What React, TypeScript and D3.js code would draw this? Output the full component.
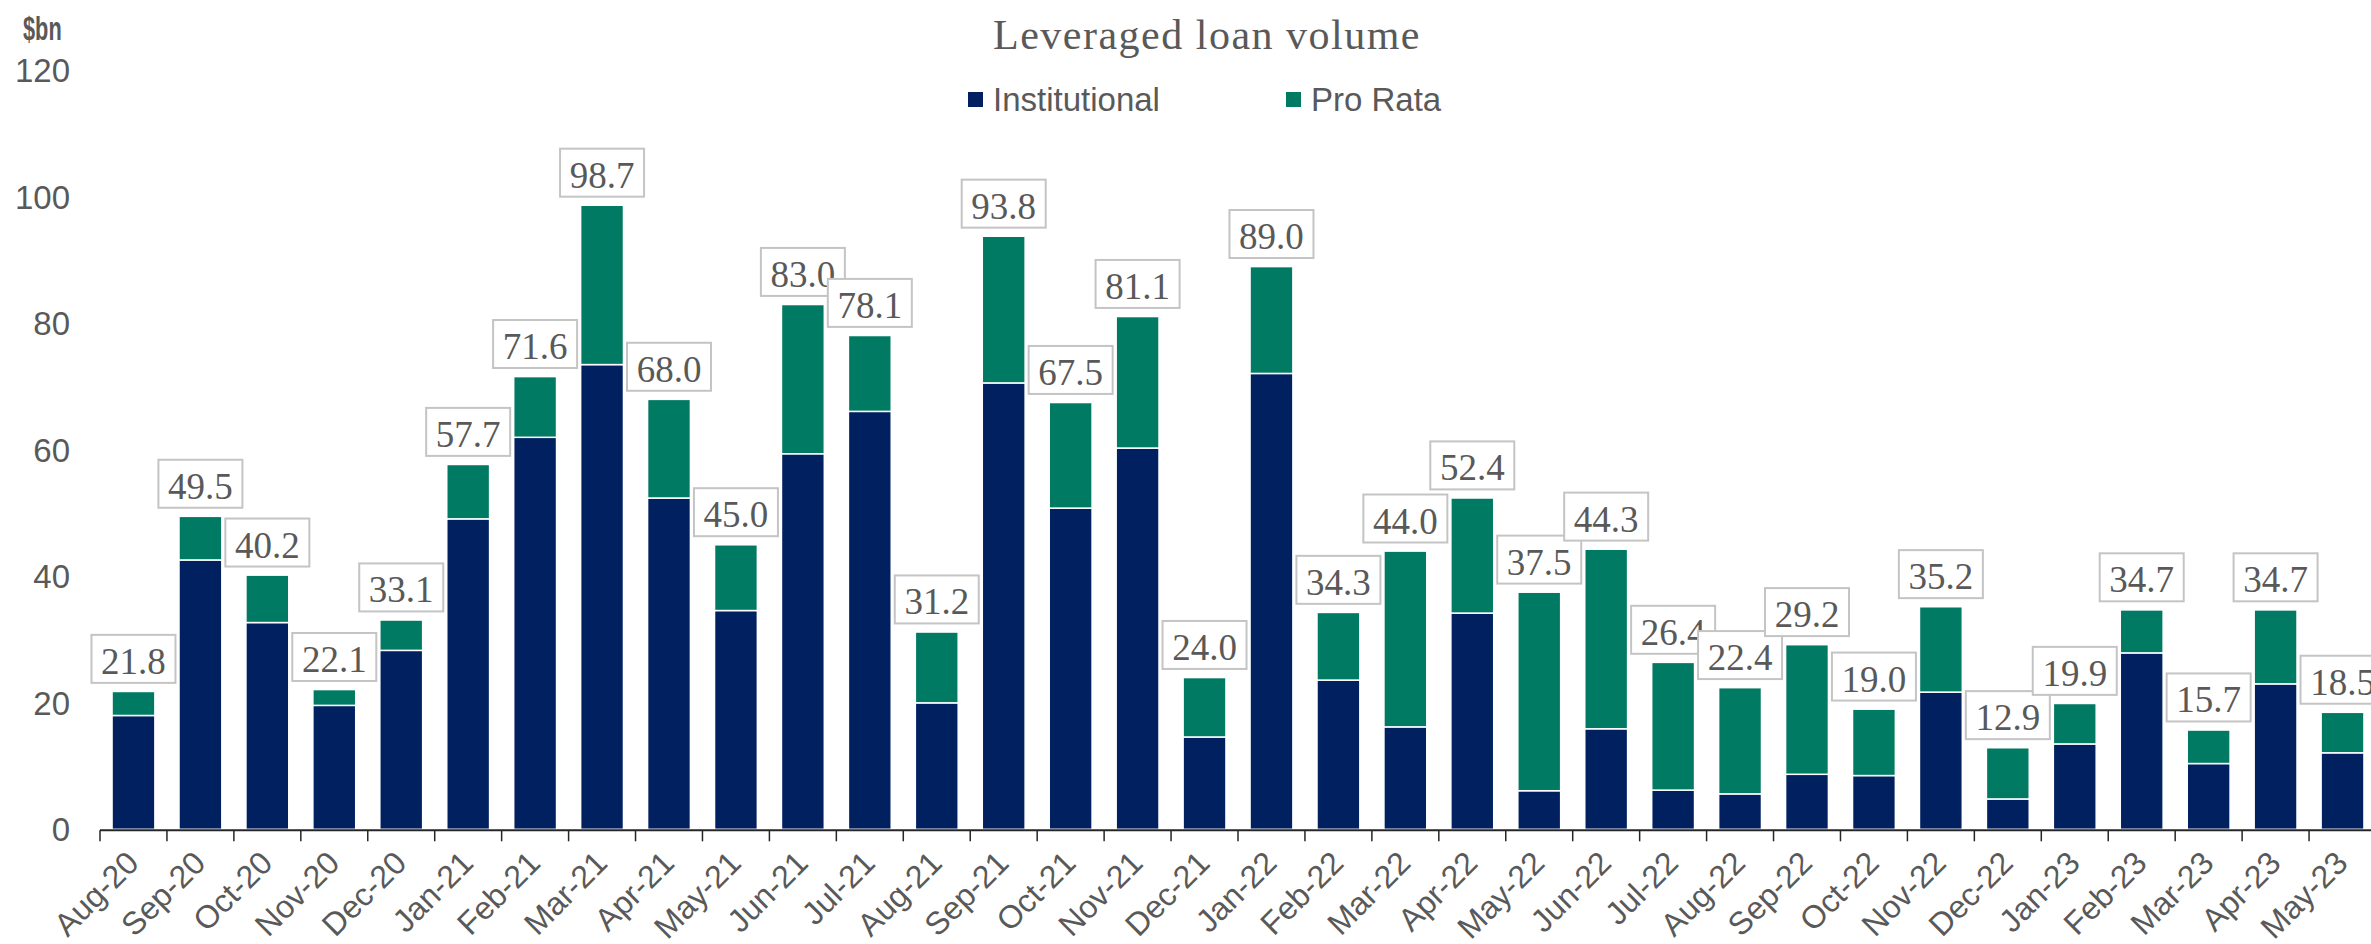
import React, { useRef, useLayoutEffect } from "react";
import * as d3 from "d3";

const months = [
  "Aug-20", "Sep-20", "Oct-20", "Nov-20", "Dec-20", "Jan-21", "Feb-21", "Mar-21",
  "Apr-21", "May-21", "Jun-21", "Jul-21", "Aug-21", "Sep-21", "Oct-21", "Nov-21",
  "Dec-21", "Jan-22", "Feb-22", "Mar-22", "Apr-22", "May-22", "Jun-22", "Jul-22",
  "Aug-22", "Sep-22", "Oct-22", "Nov-22", "Dec-22", "Jan-23", "Feb-23", "Mar-23",
  "Apr-23", "May-23",
];

const institutional = [
  18.0, 42.6, 32.7, 19.6, 28.3, 49.1, 62.0, 73.5, 52.4, 34.6, 59.4, 66.1, 20.0,
  70.6, 50.8, 60.3, 14.6, 72.1, 23.6, 16.2, 34.2, 6.1, 15.9, 6.2, 5.6, 8.7, 8.5,
  21.7, 4.8, 13.5, 27.9, 10.4, 23.0, 12.1,
];

const proRata = [
  3.8, 6.9, 7.5, 2.5, 4.8, 8.6, 9.6, 25.2, 15.6, 10.4, 23.6, 12.0, 11.2, 23.2,
  16.7, 20.8, 9.4, 16.9, 10.7, 27.8, 18.2, 31.4, 28.4, 20.2, 16.8, 20.5, 10.5,
  13.5, 8.1, 6.4, 6.8, 5.3, 11.7, 6.4,
];

const totals = [
  21.8, 49.5, 40.2, 22.1, 33.1, 57.7, 71.6, 98.7, 68.0, 45.0, 83.0, 78.1, 31.2,
  93.8, 67.5, 81.1, 24.0, 89.0, 34.3, 44.0, 52.4, 37.5, 44.3, 26.4, 22.4, 29.2,
  19.0, 35.2, 12.9, 19.9, 34.7, 15.7, 34.7, 18.5,
];

const yTicks = [0, 20, 40, 60, 80, 100, 120];
const seriesNames = ["Institutional", "Pro Rata"];
const seriesColors = ["#002060", "#007A62"];

export default function App() {
  const ref = useRef<SVGSVGElement>(null);

  useLayoutEffect(() => {
    const width = 2371;
    const height = 944;
    const svg = d3.select(ref.current);
    svg.selectAll("*").remove();
    svg.attr("width", width).attr("height", height);

    const sans = "Arial, 'Liberation Sans', sans-serif";
    const serif = "'Times New Roman', 'Liberation Serif', serif";
    const grey = "#595959";

    const x = d3.scaleBand<string>().domain(months).range([100, 2376]).paddingInner(0.36).paddingOuter(0.18);
    const y = d3.scaleLinear().domain([0, 120]).range([829.3, 70.6]);

    const rows = months.map((m, i) => ({ month: m, Institutional: institutional[i], "Pro Rata": proRata[i] }));
    const stacked = d3.stack<any>().keys(seriesNames)(rows);

    // bars
    const barG = svg.append("g");
    stacked.forEach((layer, si) => {
      barG
        .append("g")
        .attr("fill", seriesColors[si])
        .selectAll("rect")
        .data(layer)
        .join("rect")
        .attr("x", (d: any) => x(d.data.month)!)
        .attr("width", x.bandwidth())
        .attr("y", (d) => y(d[1]))
        .attr("height", (d) => y(d[0]) - y(d[1]))
        .attr("stroke", "#fff")
        .attr("stroke-width", 1.5);
    });

    // x axis line + ticks at band edges
    const gap = (x.step() - x.bandwidth()) / 2;
    const axisG = svg.append("g").attr("stroke", "#262626");
    axisG
      .append("line")
      .attr("x1", 100)
      .attr("x2", width)
      .attr("y1", y(0) + 1)
      .attr("y2", y(0) + 1)
      .attr("stroke-width", 2);
    axisG
      .selectAll("line.tick")
      .data(months)
      .join("line")
      .attr("class", "tick")
      .attr("x1", (d) => x(d)! - gap)
      .attr("x2", (d) => x(d)! - gap)
      .attr("y1", y(0) + 1)
      .attr("y2", y(0) + 12)
      .attr("stroke-width", 1.5);

    // x labels
    svg
      .append("g")
      .selectAll("text")
      .data(months)
      .join("text")
      .attr("transform", (d) => `translate(${x(d)! + x.bandwidth() / 2 + 7},865) rotate(-45)`)
      .attr("text-anchor", "end")
      .attr("font-family", sans)
      .attr("font-size", 32)
      .attr("fill", grey)
      .text((d) => d);

    // y labels
    svg
      .append("g")
      .selectAll("text")
      .data(yTicks)
      .join("text")
      .attr("x", 70)
      .attr("y", (d) => y(d))
      .attr("dy", "0.36em")
      .attr("text-anchor", "end")
      .attr("font-family", sans)
      .attr("font-size", 33)
      .attr("fill", grey)
      .text((d) => d);

    // unit label, condensed
    svg
      .append("text")
      .attr("transform", "translate(23,40) scale(0.66,1)")
      .attr("font-family", sans)
      .attr("font-weight", "bold")
      .attr("font-size", 33)
      .attr("fill", grey)
      .text("$bn");

    // value boxes
    const boxW = 84;
    const boxH = 48;
    const labels = svg
      .append("g")
      .selectAll("g")
      .data(months)
      .join("g")
      .attr("transform", (d, i) => `translate(${x(d)! + x.bandwidth() / 2},${y(totals[i]) - 8.6 - boxH})`);
    labels
      .append("rect")
      .attr("x", -boxW / 2)
      .attr("width", boxW)
      .attr("height", boxH)
      .attr("fill", "#fff")
      .attr("stroke", "#c4c4c4")
      .attr("stroke-width", 2);
    labels
      .append("text")
      .attr("y", 39)
      .attr("text-anchor", "middle")
      .attr("font-family", serif)
      .attr("font-size", 37)
      .attr("fill", grey)
      .text((d, i) => totals[i].toFixed(1));

    // title
    svg
      .append("text")
      .attr("x", 1207)
      .attr("y", 49)
      .attr("text-anchor", "middle")
      .attr("font-family", serif)
      .attr("font-size", 42)
      .attr("letter-spacing", 1.5)
      .attr("fill", grey)
      .text("Leveraged loan volume");

    // legend
    const legendX = [968, 1286];
    const legend = svg
      .append("g")
      .selectAll("g")
      .data(seriesNames)
      .join("g")
      .attr("transform", (d, i) => `translate(${legendX[i]},0)`);
    legend
      .append("rect")
      .attr("y", 92)
      .attr("width", 15)
      .attr("height", 15)
      .attr("fill", (d, i) => seriesColors[i]);
    legend
      .append("text")
      .attr("x", 25)
      .attr("y", 111)
      .attr("font-family", sans)
      .attr("font-size", 33)
      .attr("fill", grey)
      .text((d) => d);
  }, []);

  return (
    <div style={{ position: "absolute", left: 0, top: 0 }}>
      <svg ref={ref} style={{ display: "block" }} />
    </div>
  );
}
